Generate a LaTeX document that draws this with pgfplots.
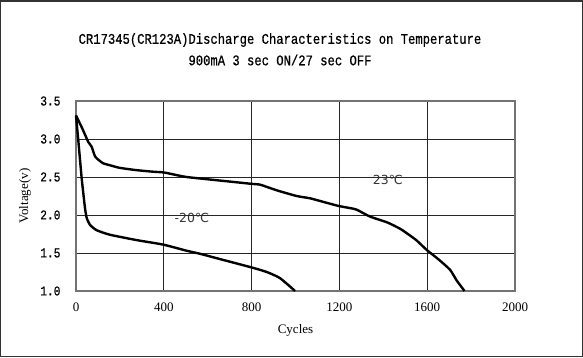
\documentclass[border=0pt]{standalone}
\usepackage{fontspec}
\setmainfont{Liberation Serif}
\newfontfamily\titlefont[FakeStretch=0.83,FakeBold=0.6]{Liberation Mono}
\newfontfamily\tickfont[FakeStretch=0.83,FakeBold=0.5]{Liberation Mono}
\newfontfamily\symfont{DejaVu Sans}
\usepackage{pgfplots}
\pgfplotsset{compat=1.18}
\pgfplotstableread{
x y
0 3.31
30 3.13
56 2.96
71 2.90
87 2.77
105 2.72
124 2.68
160 2.65
200 2.62
276 2.59
350 2.57
400 2.56
450 2.53
504 2.50
600 2.47
700 2.44
800 2.41
838 2.40
869 2.37
920 2.32
1005 2.25
1066 2.22
1130 2.17
1195 2.12
1250 2.09
1279 2.07
1339 1.98
1420 1.90
1476 1.82
1507 1.76
1550 1.67
1598 1.54
1650 1.42
1704 1.28
1734 1.14
1770 1.00
}\warm
\pgfplotstableread{
x y
0 3.31
13 2.90
26 2.48
41 2.09
49 1.96
64 1.87
94 1.80
155 1.74
276 1.67
398 1.61
504 1.53
565 1.49
656 1.42
800 1.31
869 1.25
929 1.17
998 1.00
}\cold
\begin{document}
\begin{tikzpicture}
\begin{axis}[
  at={(0pt,0pt)}, anchor=south west,
  scale only axis, width=439pt, height=190pt,
  xmin=0, xmax=2000, ymin=1, ymax=3.5,
  xtick={0,400,800,1200,1600,2000},
  xticklabels={0,400,800,1200,1600,2000},
  ytick={1,1.5,2,2.5,3,3.5},
  yticklabels={1.0,1.5,2.0,2.5,3.0,3.5},
  major tick length=0pt,
  grid=major,
  major grid style={black!85, line width=0.8pt},
  axis line style={black!55, line width=1.4pt},
  xticklabel style={font=\fontsize{13}{15}\selectfont, yshift=-8pt},
  yticklabel style={font=\tickfont\fontsize{13.5}{15}\selectfont, xshift=-12pt},
  xlabel={Cycles},
  ylabel={Voltage(v)},
  xlabel style={font=\fontsize{13}{15}\selectfont, at={(axis description cs:0.5,-0.205)}, anchor=center},
  ylabel style={font=\fontsize{13}{15}\selectfont, at={(axis description cs:-0.116,0.5)}, anchor=center},
  clip=false,
]
\addplot[black, line width=2.4pt, line join=round, smooth, tension=0.35] table[x=x,y=y] {\warm};
\addplot[black, line width=2.4pt, line join=round, smooth, tension=0.35] table[x=x,y=y] {\cold};
\node[font=\symfont\fontsize{12.5}{14}\selectfont, text=black!80] at (axis cs:528,1.96) {-20℃};
\node[font=\symfont\fontsize{12.5}{14}\selectfont, text=black!80] at (axis cs:1421,2.46) {23℃};
\end{axis}
\node[font=\titlefont\fontsize{14.7}{16}\selectfont] at (204pt,251pt) {CR17345(CR123A)Discharge Characteristics on Temperature};
\node[font=\titlefont\fontsize{14.7}{16}\selectfont] at (204pt,231pt) {900mA 3 sec ON/27 sec OFF};
\draw[black!80, line width=1.5pt] (-75.25pt,-65.25pt) rectangle (506.25pt,290.25pt);
\end{tikzpicture}
\end{document}
